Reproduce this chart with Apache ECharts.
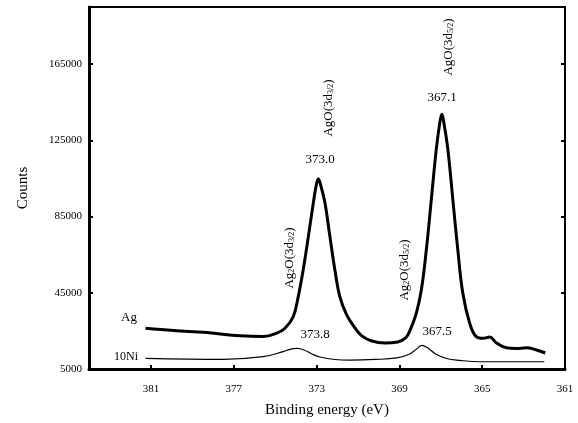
<!DOCTYPE html>
<html>
<head>
<meta charset="utf-8">
<script src="https://cdn.jsdelivr.net/npm/echarts@6/dist/echarts.min.js"></script>
<style>html,body{margin:0;padding:0;background:#fff}#c{width:578px;height:423px}</style>
</head>
<body>
<div id="c"></div>
<script>
// Binding energy (eV) and counts
const agEnergy = [381.27,379.91,378.30,376.70,375.57,374.93,374.53,374.13,373.89,373.65,373.40,373.16,373.03,372.92,372.79,372.60,372.36,372.12,371.88,371.55,371.15,370.82,370.33,369.71,369.08,368.70,368.50,368.18,367.94,367.70,367.46,367.22,367.06,366.95,366.84,366.66,366.42,366.18,365.94,365.61,365.29,364.94,364.65,364.31,363.83,363.35,362.87,362.38,361.95];
const agCounts = [26400,25200,24100,22400,22000,23800,26400,32500,43000,57100,74600,92200,100800,104800,100800,92200,74600,57100,43000,33400,26600,22400,19700,18700,19200,21300,25000,34500,46600,67600,93900,120300,133400,138700,133400,120300,93900,67600,45000,29200,22000,21100,21800,18700,16100,15800,16100,15000,13400];
const niEnergy = [381.27,377.52,375.59,374.62,374.29,373.95,373.61,373.23,372.84,372.12,371.40,370.19,369.13,368.50,368.17,367.91,367.64,367.25,366.72,366.09,365.13,363.20,362.00];
const niCounts = [10600,10100,11500,14100,15300,15800,15000,12900,11300,10000,9700,10000,10800,12900,15500,17400,16100,12900,10500,9500,8800,8800,8800];
const xTicks = [361,365,369,373,377,381];
const yTicks = [5000,45000,85000,125000,165000];
const seriesNames = ['Ag','10Ni'];

const FONT = 'Liberation Serif';
const pair = (xs, ys) => xs.map((x, i) => [x, ys[i]]);
const rich = {
  n: {fontFamily: FONT, fontSize: 13, color: '#000', verticalAlign: 'bottom', lineHeight: 16},
  s: {fontFamily: FONT, fontSize: 8, color: '#000', verticalAlign: 'bottom', lineHeight: 12}
};
function lbl(text, x, y, rot, size) {
  return {type: 'text', x: x, y: y, rotation: rot || 0, z: 10,
    style: {text: text, rich: rich, fill: '#000', font: (size || 13) + 'px "' + FONT + '"',
      align: 'center', verticalAlign: 'middle'}};
}
const chart = echarts.init(document.getElementById('c'), null, {renderer: 'canvas'});
chart.setOption({
  animation: false,
  backgroundColor: '#fff',
  grid: {left: 89, right: 13, top: 7, bottom: 54, show: true, borderColor: '#000', borderWidth: 2,
    containLabel: false, outerBoundsMode: 'none'},
  xAxis: {
    type: 'value', min: 361, max: 384, interval: 4, inverse: true,
    name: 'Binding energy (eV)', nameLocation: 'middle', nameGap: 34,
    nameTextStyle: {fontFamily: FONT, fontSize: 15, color: '#000'},
    axisLine: {lineStyle: {color: '#000', width: 3}},
    axisTick: {inside: true, length: 4, lineStyle: {color: '#000', width: 2}},
    axisLabel: {margin: 15, fontFamily: FONT, fontSize: 11, color: '#000',
      formatter: v => xTicks.includes(v) ? String(v) : ''},
    splitLine: {show: false}
  },
  yAxis: [{
    type: 'value', min: 5000, max: 195000, interval: 40000,
    name: 'Counts', nameLocation: 'middle', nameGap: 58,
    nameTextStyle: {fontFamily: FONT, fontSize: 15, color: '#000'},
    axisLine: {show: true, lineStyle: {color: '#000', width: 3}},
    axisTick: {inside: true, length: 4, lineStyle: {color: '#000', width: 2}},
    axisLabel: {margin: 7, fontFamily: FONT, fontSize: 11, color: '#000',
      formatter: v => yTicks.includes(v) ? String(v) : ''},
    splitLine: {show: false}
  }, {
    type: 'value', min: 5000, max: 195000, interval: 40000, position: 'right',
    axisLine: {show: true, lineStyle: {color: '#000', width: 2}},
    axisTick: {inside: true, length: 4, lineStyle: {color: '#000', width: 2}},
    axisLabel: {show: false}, splitLine: {show: false}
  }],
  series: [{
    name: seriesNames[0], type: 'line', smooth: 0.4, symbol: 'none',
    lineStyle: {color: '#000', width: 3}, data: pair(agEnergy, agCounts)
  }, {
    name: seriesNames[1], type: 'line', smooth: 0.4, symbol: 'none',
    lineStyle: {color: '#000', width: 1.2}, data: pair(niEnergy, niCounts)
  }],
  graphic: [
    lbl('{n|Ag}{s|2}{n|O(3d}{s|3/2}{n|)}', 288, 258, Math.PI / 2),
    lbl('{n|AgO(3d}{s|3/2}{n|)}', 327, 108, Math.PI / 2),
    lbl('{n|Ag}{s|2}{n|O(3d}{s|5/2}{n|)}', 403, 270, Math.PI / 2),
    lbl('{n|AgO(3d}{s|5/2}{n|)}', 447, 47, Math.PI / 2),
    lbl('373.0', 320, 160, 0, 13),
    lbl('367.1', 442, 98, 0, 13),
    lbl('373.8', 315, 335, 0, 13),
    lbl('367.5', 437, 332, 0, 13),
    {type: 'text', x: 137, y: 318, style: {text: seriesNames[0], fill: '#000', font: '13px "' + FONT + '"', align: 'right', verticalAlign: 'middle'}},
    {type: 'text', x: 138, y: 357, style: {text: seriesNames[1], fill: '#000', font: '12px "' + FONT + '"', align: 'right', verticalAlign: 'middle'}}
  ]
});
</script>
</body>
</html>
